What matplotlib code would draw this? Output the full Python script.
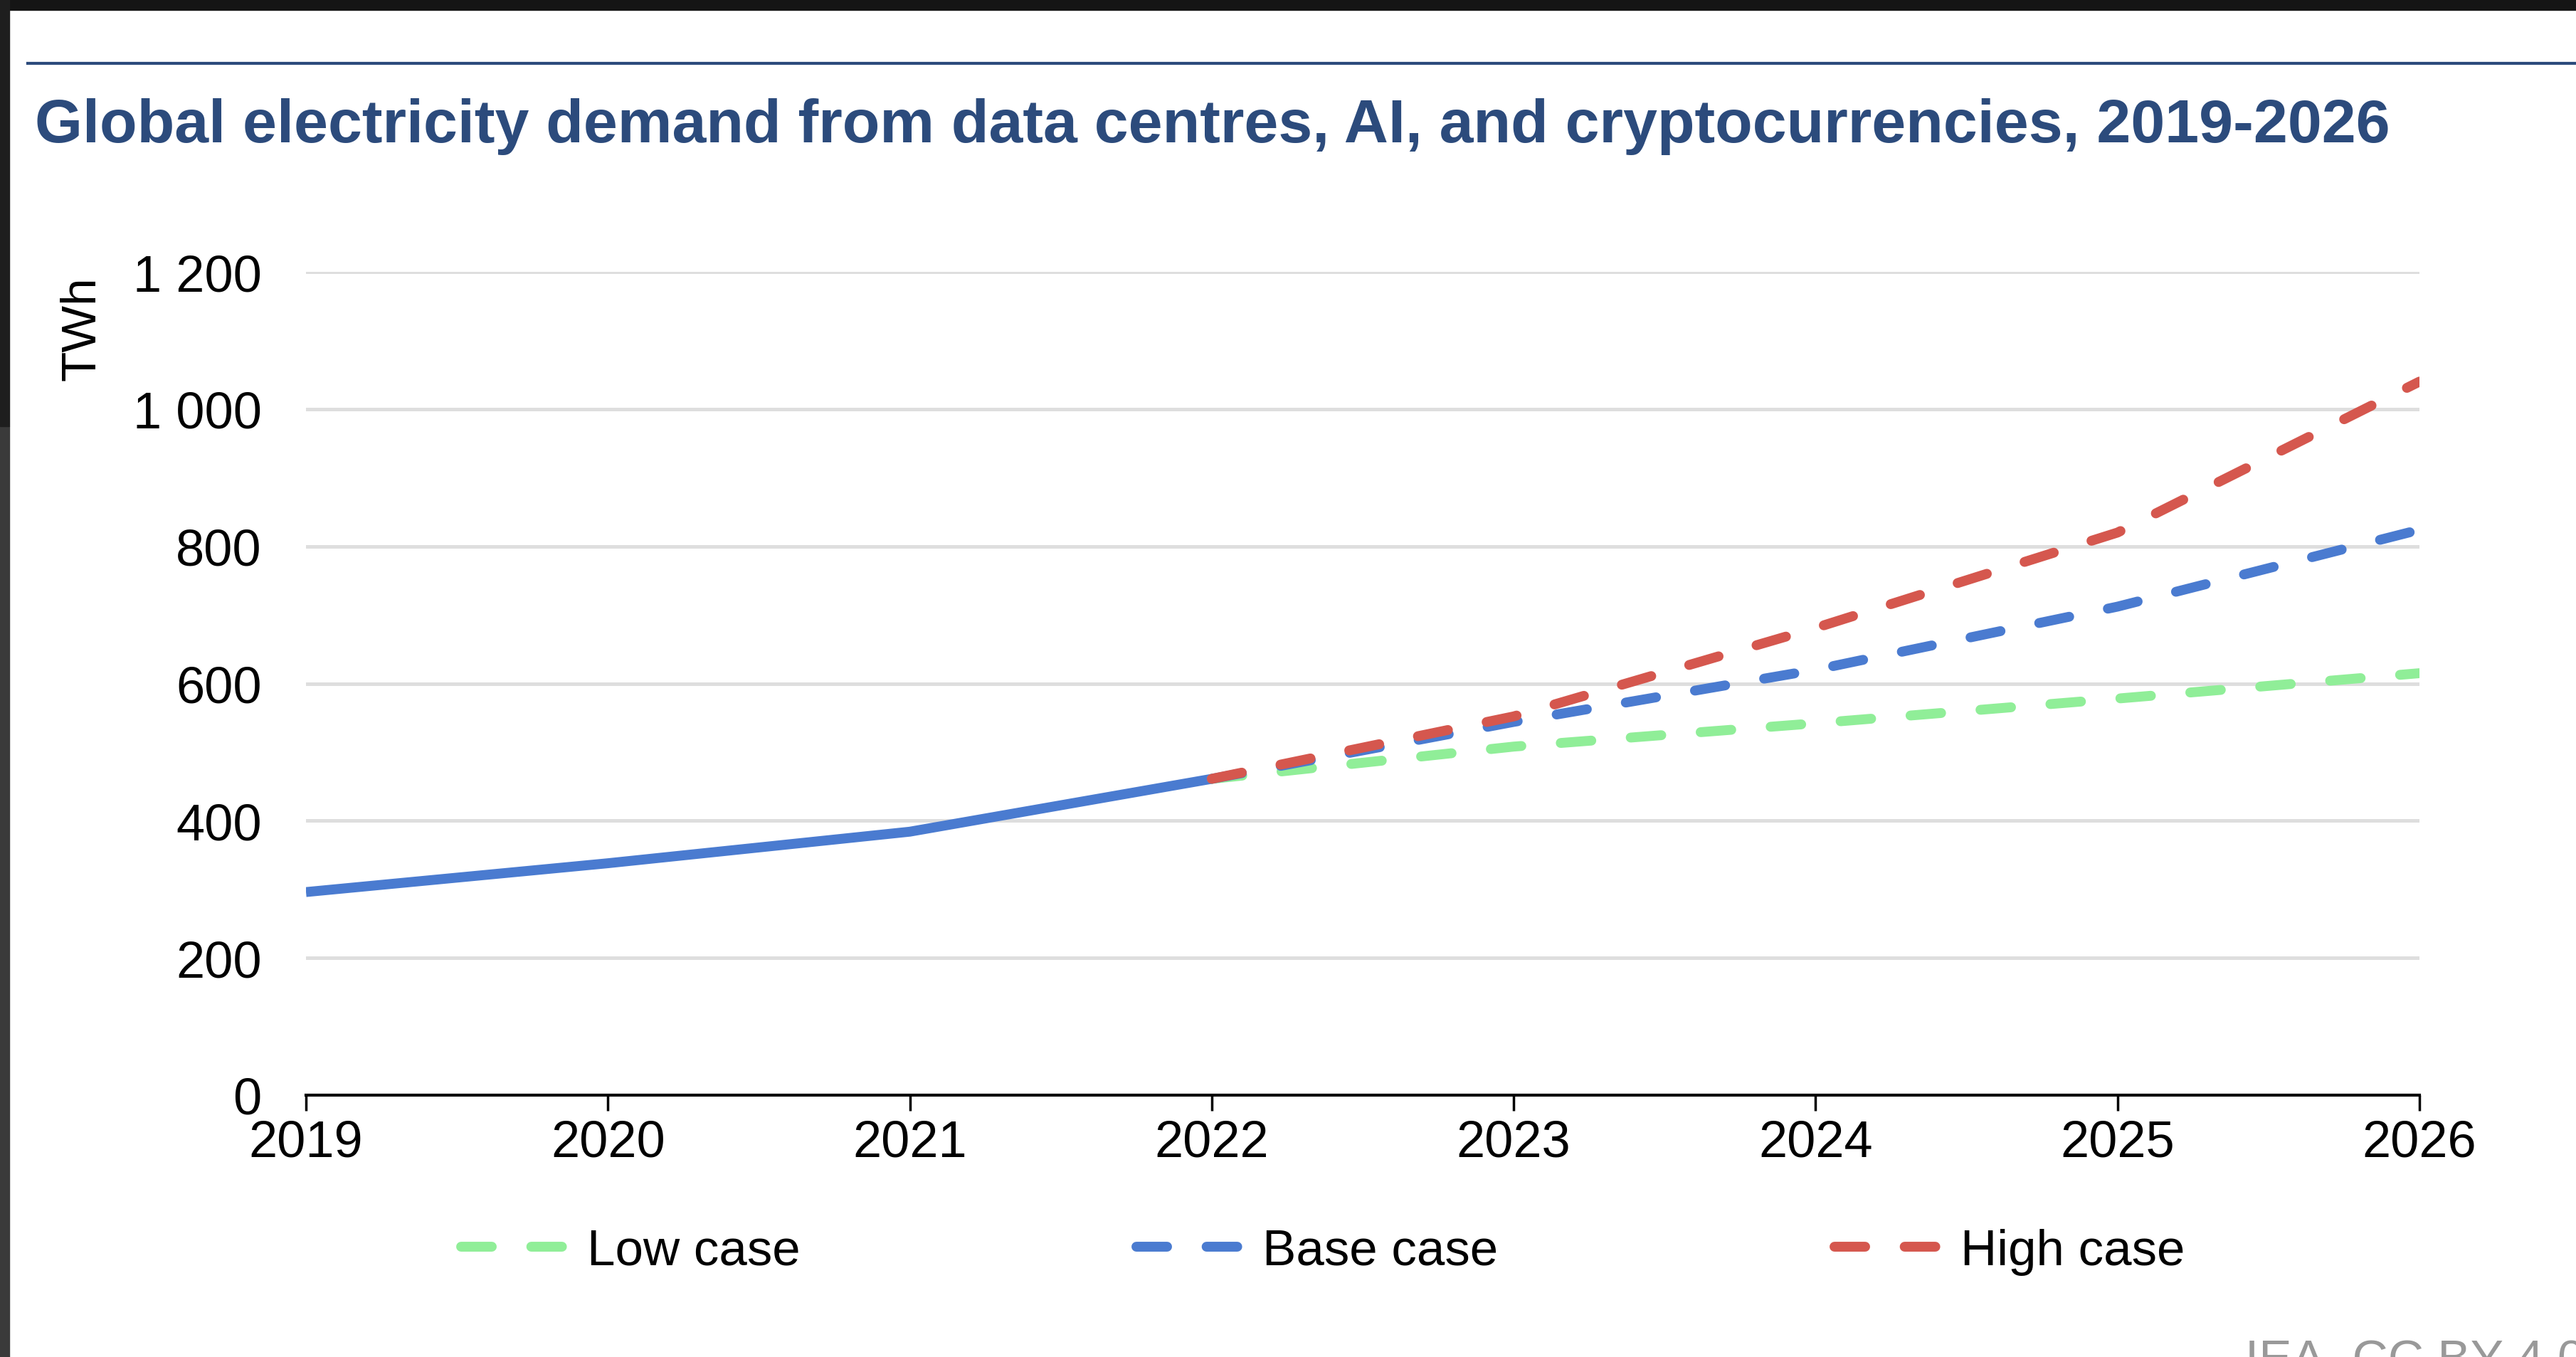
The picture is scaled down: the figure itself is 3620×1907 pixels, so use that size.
import matplotlib
matplotlib.use("Agg")
import matplotlib.pyplot as plt
from matplotlib.lines import Line2D
from matplotlib.patches import Rectangle

plt.rcParams['font.family'] = ['Liberation Sans', 'DejaVu Sans']

# data (TWh)
years_hist = [2019, 2020, 2021, 2022]
hist = [296, 338, 384, 461]
years_proj = [2022, 2023, 2024, 2025, 2026]
low_case = [461, 508, 542, 578, 615]
base_case = [461, 544, 620, 712, 824]
high_case = [461, 552, 681, 820, 1040]
y_ticks = [0, 200, 400, 600, 800, 1000, 1200]
y_tick_labels = ['0', '200', '400', '600', '800', '1 000', '1 200']

blue = '#4a7bd0'
red = '#d5574e'
green = '#90ee98'
title_col = '#2c4b7c'

W, H = 3620, 1908
fig = plt.figure(figsize=(W / 100, H / 100), dpi=100)

# screenshot border
fig.patches.append(Rectangle((0, 1 - 15 / H), 1, 15 / H, transform=fig.transFigure,
                             color='#151515', zorder=0))
fig.patches.append(Rectangle((0, 0), 13 / W, 1 - 600 / H, transform=fig.transFigure,
                             color='#3a3a3a', zorder=0))
fig.patches.append(Rectangle((0, 1 - 600 / H), 13 / W, 600 / H, transform=fig.transFigure,
                             color='#1e1e1e', zorder=0))

# rule above the title
fig.add_artist(Line2D([39 / W, 1], [1 - 90 / H, 1 - 90 / H], transform=fig.transFigure,
                      color=title_col, lw=3))
fig.text(49 / W, 1 - 200 / H,
         'Global electricity demand from data centres, AI, and cryptocurrencies, 2019-2026',
         fontsize=62, fontweight='bold', color=title_col, ha='left', va='baseline')

ax = fig.add_axes([430 / W, 368 / H, 2970 / W, 1157 / H])

lw = 10
dash = (3.1, 4.0)
ax.plot(years_hist, hist, color=blue, lw=lw, solid_capstyle='butt', zorder=3)
ax.plot(years_proj, low_case, color=green, lw=lw, dashes=dash, dash_capstyle='round',
        label='Low case', zorder=4)
ax.plot(years_proj, base_case, color=blue, lw=lw, dashes=dash, dash_capstyle='round',
        label='Base case', zorder=5)
ax.plot(years_proj, high_case, color=red, lw=lw, dashes=dash, dash_capstyle='round',
        label='High case', zorder=6)

ax.set_xlim(2019, 2026)
ax.set_ylim(0, 1200)
ax.set_xticks(range(2019, 2027))
ax.set_yticks(y_ticks)
ax.set_yticklabels(y_tick_labels)

ax.grid(axis='y', color='#dedede', lw=3.6, zorder=0)
ax.set_axisbelow(True)
for s in ['left', 'right', 'top']:
    ax.spines[s].set_visible(False)
ax.spines['bottom'].set_linewidth(3)
ax.spines['bottom'].set_color('black')
ax.spines['bottom'].set_zorder(2)

ax.tick_params(axis='y', length=0, pad=45, labelsize=52)
ax.tick_params(axis='x', length=16, width=2.5, pad=8, labelsize=52, direction='out')

fig.text(115 / W, 1 - 462 / H, 'TWh', rotation=90, fontsize=50, ha='center', va='center')

ax.legend(loc='center', bbox_to_anchor=(1859 / W, 1 - 1760 / H),
          bbox_transform=fig.transFigure, ncol=3, frameon=False, fontsize=51,
          handlelength=2.1, handletextpad=0.4, columnspacing=6.67, borderpad=0)

fig.text(3155 / W, 1 - 1882 / H, 'IEA. CC BY 4.0', fontsize=50, color='#999999',
         ha='left', va='top')

fig.savefig('out.png', dpi=100)
